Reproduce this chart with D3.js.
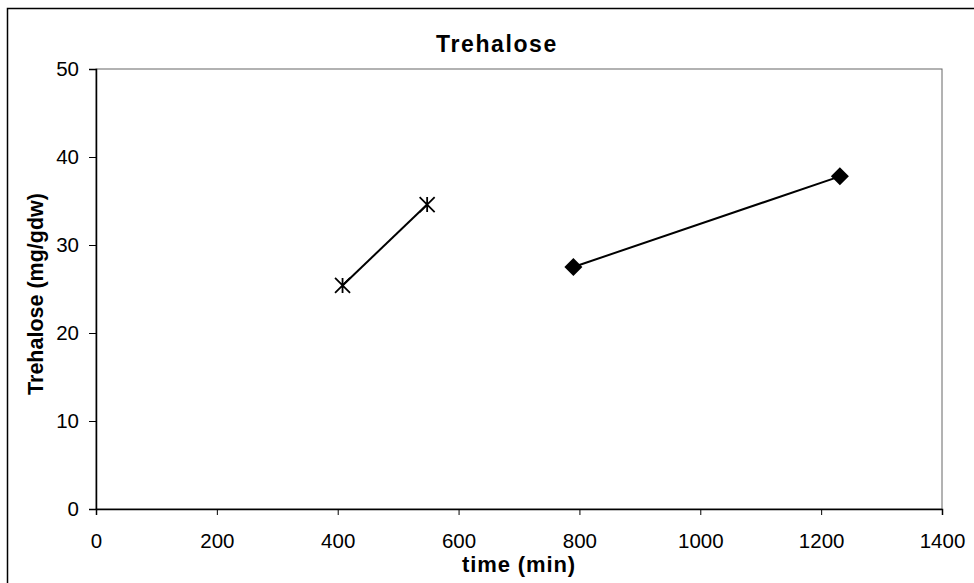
<!DOCTYPE html>
<html>
<head>
<meta charset="utf-8">
<script src="https://cdn.jsdelivr.net/npm/d3@7"></script>
<style>
  body { margin: 0; background: #fff; }
  text { font-family: Arial, "Liberation Sans", sans-serif; fill: #000; }
</style>
</head>
<body>
<script>
// chart values
var starTime = [408, 548];
var starValue = [25.4, 34.6];
var diamondTime = [790, 1231];
var diamondValue = [27.5, 37.8];
var xTicks = [0, 200, 400, 600, 800, 1000, 1200, 1400];
var yTicks = [0, 10, 20, 30, 40, 50];

var width = 974;
var height = 583;

var svg = d3.select("body")
  .append("svg")
  .attr("width", width)
  .attr("height", height);

// outer frame (only left and top edges show)
svg.append("rect")
  .attr("x", 7.5)
  .attr("y", 8.5)
  .attr("width", 1000)
  .attr("height", 600)
  .attr("fill", "none")
  .attr("stroke", "#000")
  .attr("stroke-width", 1.5);

var plotLeft = 96, plotRight = 942, plotTop = 69, plotBottom = 509;

var x = d3.scaleLinear().domain([0, 1400]).range([plotLeft, plotRight]);
var y = d3.scaleLinear().domain([0, 50]).range([plotBottom, plotTop]);

// plot area border
svg.append("rect")
  .attr("x", plotLeft)
  .attr("y", plotTop)
  .attr("width", plotRight - plotLeft)
  .attr("height", plotBottom - plotTop)
  .attr("fill", "none")
  .attr("stroke", "#666")
  .attr("stroke-width", 1);

var xAxis = svg.append("g")
  .attr("transform", "translate(0," + plotBottom + ")")
  .call(d3.axisBottom(x).tickValues(xTicks).tickSize(6).tickPadding(18).tickFormat(d3.format("d")));

var yAxis = svg.append("g")
  .attr("transform", "translate(" + plotLeft + ",0)")
  .call(d3.axisLeft(y).tickValues(yTicks).tickSize(7).tickPadding(10).tickFormat(d3.format("d")));

[xAxis, yAxis].forEach(function(g) {
  g.select(".domain").attr("stroke", "#000").attr("stroke-width", 1.5);
  g.selectAll(".tick line").attr("stroke", "#000").attr("stroke-width", 1);
  g.selectAll(".tick text")
    .style("font-family", "Arial, 'Liberation Sans', sans-serif")
    .style("font-size", "20.5px")
    .attr("fill", "#000");
});

var line = d3.line()
  .x(function(d) { return x(d[0]); })
  .y(function(d) { return y(d[1]); });

var starPts = d3.zip(starTime, starValue);
var diamondPts = d3.zip(diamondTime, diamondValue);

svg.append("path")
  .datum(starPts)
  .attr("d", line)
  .attr("fill", "none")
  .attr("stroke", "#000")
  .attr("stroke-width", 2);

svg.append("path")
  .datum(diamondPts)
  .attr("d", line)
  .attr("fill", "none")
  .attr("stroke", "#000")
  .attr("stroke-width", 2);

// star markers: an x with a vertical stroke
var s = 7.5;
svg.selectAll(".star")
  .data(starPts)
  .enter()
  .append("path")
  .attr("class", "star")
  .attr("transform", function(d) { return "translate(" + x(d[0]) + "," + y(d[1]) + ")"; })
  .attr("d", "M" + (-s) + "," + (-s) + "L" + s + "," + s +
             "M" + s + "," + (-s) + "L" + (-s) + "," + s +
             "M0," + (-s) + "L0," + s)
  .attr("stroke", "#000")
  .attr("stroke-width", 1.8)
  .attr("fill", "none");

svg.selectAll(".diamond")
  .data(diamondPts)
  .enter()
  .append("path")
  .attr("class", "diamond")
  .attr("transform", function(d) { return "translate(" + x(d[0]) + "," + y(d[1]) + ")"; })
  .attr("d", "M0,-9L9,0L0,9L-9,0Z")
  .attr("fill", "#000");

// titles
svg.append("text")
  .attr("x", 497)
  .attr("y", 52)
  .attr("text-anchor", "middle")
  .style("font-size", "23px")
  .style("font-weight", "bold")
  .style("letter-spacing", "1.6px")
  .text("Trehalose");

svg.append("text")
  .attr("x", 519)
  .attr("y", 572)
  .attr("text-anchor", "middle")
  .style("font-size", "22px")
  .style("font-weight", "bold")
  .style("letter-spacing", "0.9px")
  .text("time (min)");

svg.append("text")
  .attr("transform", "translate(43,294) rotate(-90)")
  .attr("text-anchor", "middle")
  .style("font-size", "21.5px")
  .style("font-weight", "bold")
  .text("Trehalose (mg/gdw)");
</script>
</body>
</html>
